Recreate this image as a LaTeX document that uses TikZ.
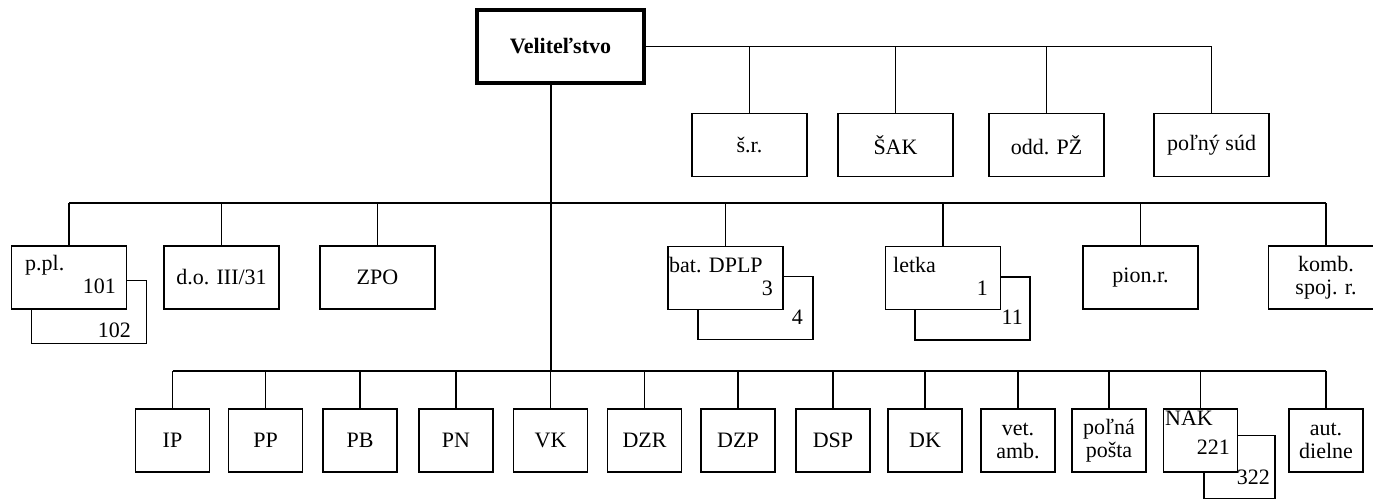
\documentclass[tikz,border=0pt]{standalone}
\usepackage{fontspec}
\setmainfont{Liberation Serif}

\tikzset{
  unit/.style={draw, line width=1.9pt, fill=white, minimum width=115pt,
    minimum height=63pt, inner sep=0pt, align=center},
  small unit/.style={unit, minimum width=74pt},
  hq/.style={unit, line width=4.5pt, minimum width=167pt, minimum height=73pt,
    font=\fontsize{22}{23}\selectfont\bfseries},
  link/.style={line width=1.9pt},
  tag/.style={inner sep=0pt}
}

\begin{document}
\begin{tikzpicture}[x=1pt, y=-1pt, font=\fontsize{22}{23}\selectfont]

        \useasboundingbox (0,0) rectangle (1373,499);

        \coordinate (midbar) at (551,203);
        \coordinate (lowbar) at (551,371);

        % velitelstvo and its staff
        \node[hq] (vel) at (560.5,46.5) {Veliteľstvo};
        \draw[link] (vel.south -| lowbar) -- (lowbar);

        \node[unit] (sr) at (749.5,145) {š.r.};
        \node[unit] (sak) at (895.5,145) {ŠAK};
        \node[unit] (pz) at (1046.5,145) {odd. PŽ};
        \node[unit] (sud) at (1211.5,145) {poľný súd};

        \draw[link] (vel.east) -| (sud.north);
        \foreach \n in {sr,sak,pz}
            \draw[link] (\n.north) -- (\n.north |- vel.east);

        % combat units
        \node[unit] (ppl2) at (89,312) {};
        \node[unit] (ppl) at (69,277.5) {};
        \node[tag, anchor=base west] (ppltxt) at (25,270) {p.pl.};
        \node[tag, anchor=base east] (ppla) at (116,293) {101};
        \node[tag, anchor=base east] (pplb) at (131,337) {102};

        \node[unit] (do) at (221.5,277.5) {d.o. III/31};
        \node[unit] (zpo) at (377.5,277.5) {ZPO};

        \node[unit] (dplp2) at (755.5,308) {};
        \node[unit] (dplp) at (725.5,278) {};
        \node[tag, anchor=base west] (dplptxt) at (669,272) {bat. DPLP};
        \node[tag, anchor=base east] (dplpa) at (773,295) {3};
        \node[tag, anchor=base east] (dplpb) at (803,324) {4};

        \node[unit] (letka2) at (972.5,308.5) {};
        \node[unit] (letka) at (943,278) {};
        \node[tag, anchor=base west] (letkatxt) at (893,272) {letka};
        \node[tag, anchor=base east] (letkaa) at (988,295) {1};
        \node[tag, anchor=base east] (letkab) at (1023,324) {11};

        \node[unit] (pion) at (1140.5,277.5) {pion.r.};
        \node[unit] (komb) at (1326,277.5) {komb.\\spoj. r.};

        \draw[link] (ppl.north |- midbar) -- (komb.north |- midbar);
        \foreach \n in {ppl,do,zpo,dplp,letka,pion,komb}
            \draw[link] (\n.north) -- (\n.north |- midbar);

        % services
        \foreach \n/\x/\t in {ip/172.5/IP, pp/265.5/PP, pb/360/PB, pn/456/PN,
            vk/550.5/VK, dzr/644.5/DZR, dzp/738/DZP, dsp/833/DSP, dk/925/DK,
            vet/1018/{vet.\\amb.}, posta/1109/{poľná\\pošta},
            aut/1326/{aut.\\dielne}}
            \node[small unit] (\n) at (\x,440.5) {\t};

        \node[small unit, minimum width=71pt] (nak2) at (1239.5,467) {};
        \node[small unit] (nak) at (1200.5,440.5) {};
        \node[tag, anchor=base west] (naktxt) at (1165,425) {NAK};
        \node[tag, anchor=base east] (naka) at (1230,454) {221};
        \node[tag, anchor=base east] (nakb) at (1270,484) {322};

        \draw[link] (ip.north |- lowbar) -- (aut.north |- lowbar);
        \foreach \n in {ip,pp,pb,pn,vk,dzr,dzp,dsp,dk,vet,posta,nak,aut}
            \draw[link] (\n.north) -- (\n.north |- lowbar);

    \end{tikzpicture}
\end{document}
